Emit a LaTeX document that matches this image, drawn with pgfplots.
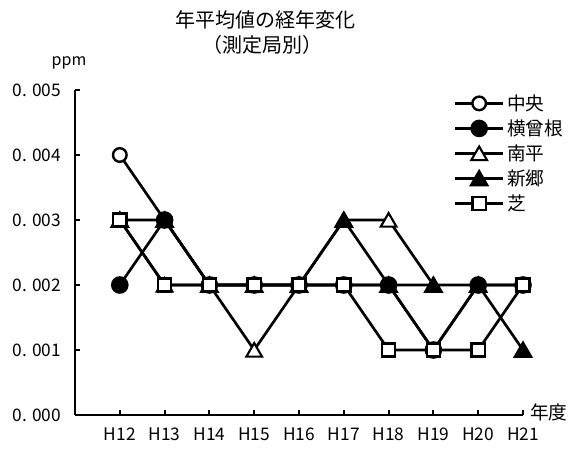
\documentclass[border=0pt]{standalone}
\usepackage{fontspec}
\setmainfont{Noto Sans CJK JP}
\usepackage{pgfplots}
\pgfplotsset{compat=1.18}
\begin{document}
\begin{tikzpicture}
\path[use as bounding box] (0,0) rectangle (431.25pt,342pt);
\begin{axis}[
  at={(56.25pt,30.75pt)}, anchor=south west,
  scale only axis, width=336pt, height=243.75pt,
  xmin=-1, xmax=9, ymin=0, ymax=0.005,
  axis lines*=left,
  axis line style={line width=2.1pt},
  tick align=inside,
  major tick length=4pt,
  tick style={line width=1.5pt, black},
  xtick={0,1,2,3,4,5,6,7,8,9},
  xticklabels={H12,H13,H14,H15,H16,H17,H18,H19,H20,H21},
  ytick={0,0.001,0.002,0.003,0.004,0.005},
  yticklabels={0. 000,0. 001,0. 002,0. 003,0. 004,0. 005},
  scaled y ticks=false,
  ticklabel style={font=\fontsize{13pt}{15pt}\selectfont},
  xticklabel style={yshift=-6pt},
  yticklabel style={xshift=-7pt},
  clip=false,
  every axis plot/.append style={line width=2pt, black},
  legend style={draw=none, fill=none, at={(0.845,0.995)}, anchor=north west,
    font=\fontsize{14pt}{15pt}\selectfont, row sep=1.5pt, inner sep=0pt},
  legend cell align=left,
  legend image code/.code={\draw[mark repeat=2,mark phase=2] plot coordinates {(0pt,0pt) (18pt,0pt) (36pt,0pt)};},
]
% 中央
\addplot[mark=*, mark size=5.1pt, mark options={fill=white, line width=1.8pt}]
  coordinates {(0,0.004) (1,0.003) (2,0.002) (3,0.002) (4,0.002) (5,0.002) (6,0.002) (7,0.001) (8,0.002) (9,0.002)};
% 横曾根
\addplot[mark=*, mark size=5.6pt, mark options={fill=black}]
  coordinates {(0,0.002) (1,0.003) (2,0.002) (3,0.002) (4,0.002) (5,0.002) (6,0.002) (7,0.001) (8,0.002) (9,0.002)};
% 南平
\addplot[mark=triangle*, mark size=6.8pt, mark options={fill=white, line width=1.6pt, yshift=-1.6pt}]
  coordinates {(0,0.003) (1,0.002) (2,0.002) (3,0.001) (4,0.002) (5,0.003) (6,0.003) (7,0.002)};
% 新郷
\addplot[mark=triangle*, mark size=6.8pt, mark options={fill=black, yshift=-1.6pt}]
  coordinates {(0,0.003) (1,0.003) (2,0.002) (3,0.002) (4,0.002) (5,0.003) (6,0.002) (7,0.002) (8,0.002) (9,0.001)};
% 芝
\addplot[mark=square*, mark size=5pt, mark options={fill=white, line width=1.8pt}]
  coordinates {(0,0.003) (1,0.002) (2,0.002) (3,0.002) (4,0.002) (5,0.002) (6,0.001) (7,0.001) (8,0.001) (9,0.002)};
\legend{中央,横曾根,南平,新郷,芝}
\end{axis}
\node[font=\fontsize{15pt}{17pt}\selectfont] at (199pt,327pt) {年平均値の経年変化};
\node[font=\fontsize{15pt}{17pt}\selectfont] at (197pt,308.25pt) {（測定局別）};
\node[font=\fontsize{12pt}{14pt}\selectfont] at (51.75pt,294.75pt) {ppm};
\node[font=\fontsize{14pt}{16pt}\selectfont, anchor=west, inner sep=0pt] at (397.5pt,33pt) {年度};
\end{tikzpicture}
\end{document}
